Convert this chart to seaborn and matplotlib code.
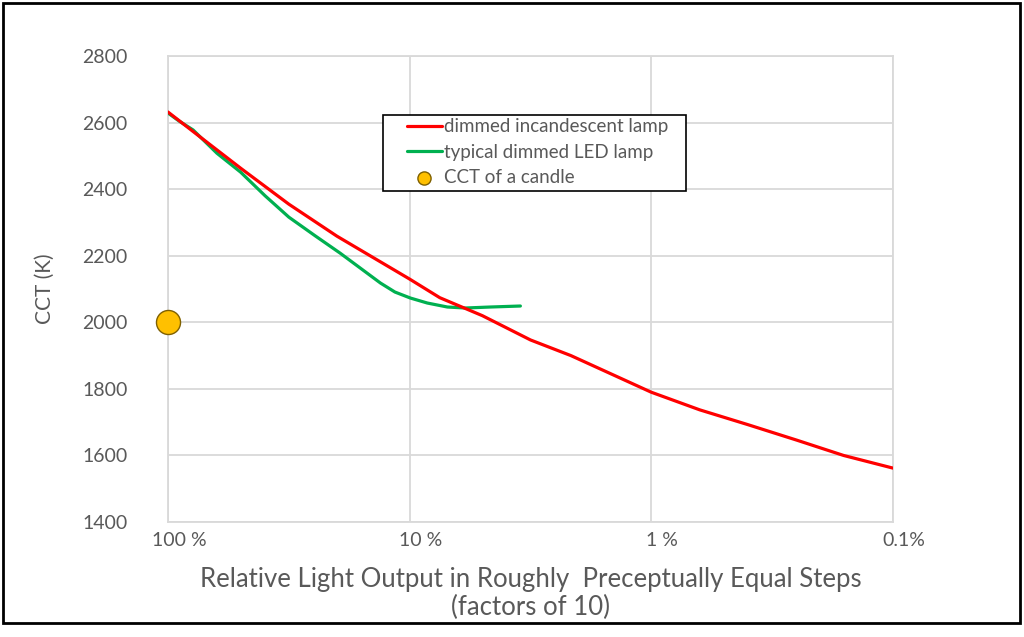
"""
CCT of dimmed lamps vs relative light output (log steps).
"""

import matplotlib
matplotlib.use("Agg")
import matplotlib.pyplot as plt
import matplotlib.transforms as mtransforms
from matplotlib.patches import Rectangle
import pandas as pd
import seaborn as sns

# relative light output in percent, and CCT in kelvin
incandescent_pct = [100, 73.6, 50, 31.6, 20, 10, 7.5, 5, 3.16, 2.15, 1, 0.63, 0.4, 0.25, 0.16, 0.1]
incandescent_cct = [2632, 2557, 2463, 2355, 2259, 2130, 2074, 2020, 1947, 1900, 1790, 1737, 1693, 1646, 1600, 1562]

led_pct = [100, 90, 78.7, 62.7, 50, 39.6, 31.6, 24.6, 19.4, 16.0, 13.2, 11.5, 9.93, 8.45, 6.98, 5.88, 4.63, 3.48]
led_cct = [2629, 2605, 2578, 2508, 2451, 2380, 2316, 2260, 2208, 2163, 2118, 2091, 2073, 2058, 2046, 2043, 2046, 2049]

candle_pct = [100]
candle_cct = [2000]

x_ticks = [100, 10, 1, 0.1]
x_ticklabels = ["100 %", "10 %", "1 %", "0.1%"]
y_ticks = [1400, 1600, 1800, 2000, 2200, 2400, 2600, 2800]

sns.set_style("white")
plt.rcParams["font.family"] = ["Lato", "DejaVu Sans"]
text_grey = "#595959"
grid_grey = "#D9D9D9"

fig = plt.figure(figsize=(10.24, 6.37), dpi=100)
ax = fig.add_axes([0.164, 0.1805, 0.708, 0.7315])

inc = pd.DataFrame({"pct": incandescent_pct, "cct": incandescent_cct})
led = pd.DataFrame({"pct": led_pct, "cct": led_cct})
candle = pd.DataFrame({"pct": candle_pct, "cct": candle_cct})

sns.lineplot(data=inc, x="pct", y="cct", color="#FF0000", linewidth=2.3,
             label="dimmed incandescent lamp", ax=ax, zorder=4)
sns.lineplot(data=led, x="pct", y="cct", color="#00B050", linewidth=2.3,
             label="typical dimmed LED lamp", ax=ax, zorder=3)
sns.scatterplot(data=candle, x="pct", y="cct", color="#FFC000", s=300,
                edgecolor="#7F6000", linewidth=1, label="CCT of a candle",
                ax=ax, zorder=5, clip_on=False)

ax.set_xscale("log")
ax.set_xlim(100, 0.1)
ax.set_ylim(1400, 2800)
ax.set_xticks(x_ticks)
ax.set_xticklabels(x_ticklabels)
ax.minorticks_off()
ax.set_yticks(y_ticks)
ax.grid(True, color=grid_grey, linewidth=1.3)
for s in ax.spines.values():
    s.set_color(grid_grey)
    s.set_linewidth(1.3)

ax.tick_params(axis="both", length=0, labelcolor=text_grey, labelsize=14)
ax.tick_params(axis="y", pad=29)
ax.tick_params(axis="x", pad=7)
offset = mtransforms.ScaledTranslation(11 / 100, 0, fig.dpi_scale_trans)
for lab in ax.get_xticklabels():
    lab.set_transform(lab.get_transform() + offset)

ax.set_xlabel("Relative Light Output in Roughly  Preceptually Equal Steps\n(factors of 10)",
              fontsize=18.5, color=text_grey, labelpad=13, linespacing=1.15)
ax.set_ylabel("CCT (K)", fontsize=15, color=text_grey, labelpad=20)

# legend: frame drawn separately so the left padding can be wider than the top
leg = ax.legend(loc="upper left", bbox_to_anchor=(0.3297, 0.866), borderaxespad=0,
                frameon=False, fontsize=13.5, handlelength=1.85, handletextpad=0.1,
                labelspacing=0.45, borderpad=0)
leg.legend_handles[2].set_sizes([90])
for t in leg.get_texts():
    t.set_color(text_grey)
ax.add_patch(Rectangle((0.2966, 0.710), 0.418, 0.163, transform=ax.transAxes,
                       facecolor="white", edgecolor="black", linewidth=1.2, zorder=6))
leg.set_zorder(7)

fig.patches.append(Rectangle((0.003, 0.022), 0.993, 0.973, transform=fig.transFigure,
                             fill=False, edgecolor="black", linewidth=2))

fig.savefig("out.png", dpi=100)
